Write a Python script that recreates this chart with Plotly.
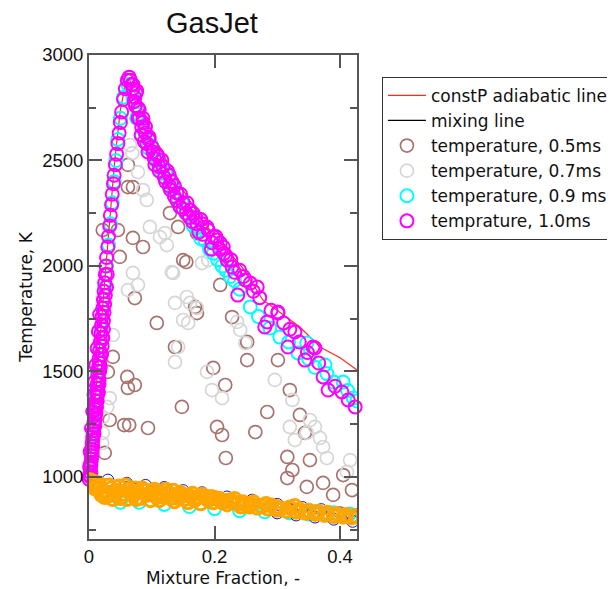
import plotly.graph_objects as go

# ---------------- data ----------------
adiab_x = [0.0, 0.013, 0.027, 0.041, 0.050, 0.058, 0.063, 0.080, 0.100, 0.125, 0.150, 0.175,
           0.200, 0.225, 0.245, 0.277, 0.300, 0.336, 0.368, 0.400, 0.427]
adiab_T = [1000, 1500, 2000, 2500, 2740, 2860, 2895, 2770, 2640, 2490, 2360, 2240,
           2140, 2060, 1990, 1839, 1790, 1711, 1616, 1565, 1507]

mix_x = [0.0, 0.427]
mix_T = [1000, 830]

t05_x = [0.062, 0.070, 0.046, 0.070, 0.086, 0.142, 0.150, 0.049, 0.129, 0.172, 0.209, 0.155,
         0.108, 0.073, 0.137, 0.198, 0.038, 0.061, 0.073, 0.062, 0.033, 0.056, 0.064, 0.094,
         0.148, 0.204, 0.212, 0.218, 0.228, 0.252, 0.252, 0.265, 0.284, 0.301, 0.320, 0.336,
         0.316, 0.324, 0.316, 0.344, 0.352, 0.347, 0.373, 0.389, 0.405, 0.419, 0.030, 0.025,
         0.217, 0.022, 0.169, 0.172, 0.062]
t05_T = [2374, 2374, 2170, 2133, 2090, 2185, 2028, 2043, 2251, 2156, 1910, 2019,
         1730, 1848, 1616, 1517, 1569, 1474, 1436, 1422, 1270, 1246, 1246, 1232,
         1332, 1237, 1199, 1090, 1758, 1640, 1554, 1213, 1308, 1554, 1412, 1294,
         1095, 1033, 995, 1209, 1080, 953, 972, 915, 1009, 938, 1498, 1114,
         1436, 2170, 1806, 1777, 2479]

t07_x = [0.065, 0.069, 0.078, 0.086, 0.092, 0.097, 0.113, 0.124, 0.132, 0.070, 0.190, 0.180,
         0.078, 0.062, 0.134, 0.137, 0.156, 0.161, 0.172, 0.150, 0.158, 0.038, 0.142, 0.137,
         0.188, 0.196, 0.212, 0.033, 0.029, 0.022, 0.022, 0.021, 0.241, 0.236, 0.249, 0.296,
         0.324, 0.320, 0.328, 0.352, 0.360, 0.368, 0.373, 0.379, 0.347, 0.416, 0.411, 0.121]
t07_T = [2573, 2535, 2445, 2360, 2313, 2185, 2137, 2099, 1971, 1967, 2028, 2014,
         1910, 1886, 1967, 1825, 1853, 1825, 1801, 1744, 1730, 1673, 1616, 1545,
         1498, 1412, 1374, 1374, 1332, 1284, 1209, 1161, 1697, 1735, 1635, 1460,
         1365, 1237, 1175, 1270, 1237, 1185, 1142, 1090, 1209, 1080, 1024, 2156]

t09_x = [0.002, 0.004, 0.006, 0.008, 0.010, 0.013, 0.016, 0.019, 0.022, 0.025, 0.028, 0.031,
         0.034, 0.037, 0.040, 0.043, 0.046, 0.050, 0.055, 0.062,
         0.070, 0.078, 0.088, 0.100, 0.110, 0.122, 0.135, 0.148, 0.160, 0.172, 0.185, 0.198,
         0.212, 0.225, 0.240, 0.257, 0.270, 0.288, 0.304, 0.318, 0.333, 0.347, 0.350, 0.360,
         0.376, 0.379, 0.390, 0.405, 0.412, 0.421, 0.427,
         0.076, 0.084, 0.094, 0.106, 0.116, 0.128, 0.142, 0.154, 0.166, 0.178, 0.192, 0.205,
         0.218, 0.232,
         0.020, 0.050, 0.080, 0.120, 0.160, 0.200, 0.240, 0.280, 0.320, 0.350, 0.380, 0.410,
         0.425, 0.360, 0.390, 0.415]
t09_T = [1000, 1100, 1200, 1300, 1400, 1500, 1600, 1700, 1800, 1900, 2000, 2100,
         2200, 2300, 2400, 2500, 2600, 2700, 2800, 2860,
         2800, 2720, 2640, 2570, 2500, 2440, 2370, 2300, 2240, 2180, 2120, 2060,
         2000, 1950, 1890, 1806, 1760, 1706, 1663, 1640, 1588, 1635, 1560, 1520,
         1531, 1490, 1450, 1450, 1410, 1374, 1360,
         2700, 2620, 2560, 2500, 2440, 2370, 2310, 2250, 2190, 2130, 2080, 2030,
         1980, 1930,
         920, 880, 880, 870, 860, 850, 840, 835, 830, 825, 820, 815,
         810, 835, 830, 825]

t10_x = [0.000, 0.001, 0.002, 0.003, 0.004, 0.004, 0.005, 0.006, 0.007, 0.008, 0.009, 0.010,
         0.011, 0.012, 0.013, 0.014, 0.015, 0.016, 0.017, 0.018, 0.019, 0.020, 0.021, 0.022,
         0.023, 0.024, 0.025, 0.026, 0.027, 0.028, 0.030, 0.031, 0.033, 0.034, 0.036, 0.037,
         0.039, 0.040, 0.042, 0.044, 0.046, 0.048, 0.050, 0.052, 0.055, 0.058, 0.061,
         0.002, 0.003, 0.005, 0.006, 0.007, 0.009, 0.010, 0.011, 0.013, 0.014, 0.016, 0.017,
         0.019, 0.021, 0.023, 0.025,
         0.003, 0.004, 0.006, 0.008, 0.009, 0.011, 0.012, 0.013, 0.015, 0.016, 0.017, 0.018,
         0.020, 0.021, 0.022, 0.023, 0.024, 0.026, 0.028, 0.029, 0.001, 0.002, 0.004, 0.006,
         0.008, 0.009, 0.011, 0.013, 0.015, 0.017,
         0.064, 0.066, 0.068, 0.070, 0.072, 0.073, 0.075, 0.078, 0.080, 0.084, 0.086, 0.090,
         0.092, 0.095, 0.100, 0.105, 0.108, 0.112, 0.116, 0.120, 0.125, 0.128, 0.132, 0.136,
         0.140, 0.145, 0.150, 0.155, 0.161, 0.165, 0.170, 0.175, 0.180, 0.188, 0.195, 0.198,
         0.204, 0.209, 0.215, 0.220, 0.228, 0.237, 0.249, 0.257, 0.268, 0.280, 0.284, 0.301,
         0.301, 0.317, 0.328, 0.344, 0.357, 0.360, 0.373, 0.381, 0.403, 0.413, 0.424,
         0.070, 0.076, 0.074, 0.080, 0.078, 0.086, 0.083, 0.090, 0.088, 0.096, 0.094, 0.102,
         0.104, 0.110, 0.112, 0.118, 0.122, 0.128, 0.130, 0.136, 0.140, 0.146, 0.150, 0.156,
         0.160, 0.166, 0.172, 0.178, 0.182, 0.190, 0.196, 0.202, 0.208, 0.214, 0.218, 0.226,
         0.232, 0.240, 0.246, 0.262, 0.272, 0.290, 0.310, 0.320, 0.335, 0.348, 0.366, 0.392]
t10_T = [990, 1010, 1040, 1070, 1100, 1130, 1160, 1190, 1220, 1260, 1290, 1320,
         1360, 1400, 1440, 1480, 1520, 1560, 1600, 1640, 1680, 1720, 1760, 1800,
         1840, 1880, 1920, 1960, 2000, 2040, 2090, 2140, 2190, 2240, 2290, 2340,
         2390, 2430, 2480, 2530, 2580, 2630, 2680, 2730, 2790, 2840, 2880,
         1000, 1055, 1115, 1175, 1205, 1245, 1275, 1340, 1380, 1420, 1460, 1540,
         1580, 1660, 1740, 1820,
         1020, 1085, 1145, 1205, 1240, 1300, 1330, 1360, 1400, 1440, 1500, 1520,
         1580, 1620, 1660, 1700, 1780, 1860, 1900, 1960, 1050, 1120, 1230, 1310,
         1390, 1450, 1530, 1610, 1690, 1770,
         2895, 2880, 2860, 2840, 2780, 2800, 2820, 2750, 2700, 2659, 2680, 2630,
         2580, 2600, 2564, 2480, 2530, 2470, 2502, 2420, 2450, 2380, 2400, 2330,
         2346, 2280, 2300, 2250, 2265, 2210, 2230, 2160, 2200, 2185, 2080, 2140,
         2123, 2109, 2060, 2028, 1995, 1862, 1934, 1919, 1900, 1711, 1735, 1782,
         1777, 1616, 1687, 1554, 1616, 1611, 1474, 1412, 1403, 1365, 1332,
         2860, 2830, 2760, 2740, 2700, 2700, 2620, 2660, 2590, 2610, 2540, 2540,
         2510, 2520, 2450, 2470, 2400, 2430, 2360, 2380, 2310, 2340, 2270, 2300,
         2230, 2250, 2200, 2220, 2150, 2170, 2110, 2140, 2080, 2090, 2050, 2030,
         1970, 1980, 1950, 1880, 1850, 1790, 1730, 1700, 1640, 1590, 1540, 1430]

blue_x = [0.005, 0.030, 0.060, 0.090, 0.120, 0.150, 0.180, 0.220, 0.260, 0.300, 0.340, 0.370,
          0.400, 0.420, 0.420, 0.390, 0.360, 0.330, 0.300]
blue_T = [990, 985, 970, 960, 950, 935, 925, 905, 890, 870, 855, 845,
          830, 815, 790, 800, 810, 820, 830]

orange_x = [0.003, 0.008, 0.012, 0.018, 0.022, 0.028, 0.035, 0.040, 0.048, 0.055, 0.062, 0.070,
            0.078, 0.085, 0.092, 0.100, 0.108, 0.115, 0.122, 0.130, 0.138, 0.145, 0.152, 0.160,
            0.170, 0.180, 0.190, 0.200, 0.212, 0.225, 0.238, 0.250, 0.262, 0.275, 0.290, 0.305,
            0.320, 0.335, 0.350, 0.365, 0.380, 0.395, 0.410, 0.425,
            0.015, 0.032, 0.045, 0.058, 0.066, 0.074, 0.088, 0.096, 0.104, 0.118, 0.126, 0.134,
            0.148, 0.165, 0.175, 0.195, 0.206, 0.218, 0.232, 0.245, 0.258, 0.282, 0.298, 0.328,
            0.006, 0.010, 0.015, 0.020, 0.025, 0.030, 0.038, 0.043, 0.050, 0.060, 0.068, 0.075,
            0.082, 0.090, 0.098, 0.106, 0.112, 0.120, 0.128, 0.136, 0.142, 0.150, 0.158, 0.168,
            0.178, 0.186, 0.198, 0.208, 0.220, 0.230, 0.242, 0.255, 0.268, 0.285, 0.300, 0.315,
            0.330, 0.345, 0.360, 0.375, 0.390, 0.405, 0.418]
orange_T = [985, 975, 960, 950, 935, 925, 945, 915, 955, 920, 940, 910,
            930, 945, 915, 930, 905, 925, 940, 900, 915, 925, 895, 910,
            900, 915, 890, 900, 880, 890, 875, 870, 880, 860, 865, 850,
            855, 845, 840, 835, 830, 825, 820, 815,
            970, 960, 930, 960, 925, 945, 935, 920, 940, 910, 925, 935,
            910, 920, 905, 905, 895, 885, 895, 880, 870, 872, 858, 862,
            965, 945, 940, 915, 905, 910, 895, 935, 900, 895, 925, 895,
            900, 935, 890, 920, 890, 905, 920, 885, 900, 915, 880, 890,
            875, 905, 880, 895, 870, 880, 860, 860, 855, 850, 845, 840,
            835, 830, 825, 820, 815, 812, 808]

x_ticks = [0, 0.2, 0.4]
y_ticks = [1000, 1500, 2000, 2500, 3000]
y_minor = [750, 1250, 1750, 2250, 2750]

FONT = "Liberation Sans, Arial, Helvetica, sans-serif"
FONT2 = "DejaVu Sans, Verdana, sans-serif"

fig = go.Figure()

fig.add_trace(go.Scatter(x=adiab_x, y=adiab_T, mode="lines", name="constP adiabatic line",
                         line=dict(color="#FF2A1A", width=1.2)))
fig.add_trace(go.Scatter(x=mix_x, y=mix_T, mode="lines", name="mixing line",
                         line=dict(color="#000000", width=1.2)))


def rings(xs, ys, name, color, size=13, width=1.7, show=True, clip=True):
    return go.Scatter(x=xs, y=ys, mode="markers", name=name, showlegend=show,
                      cliponaxis=clip,
                      marker=dict(symbol="circle-open", size=size, color=color,
                                  line=dict(width=width, color=color)))


fig.add_trace(rings(t05_x, t05_T, "temperature, 0.5ms", "#A8736E"))
fig.add_trace(rings(t07_x, t07_T, "temperature, 0.7ms", "#D6D6D6"))
fig.add_trace(rings(t09_x, t09_T, "temperature, 0.9 ms", "#00FFFF", width=2))
fig.add_trace(rings(t10_x, t10_T, "temprature, 1.0ms", "#FF00FF", width=2, clip=False))
fig.add_trace(rings(blue_x, blue_T, "blue", "#1010D0", size=12, width=1.0, show=False))
fig.add_trace(rings(orange_x, orange_T, "orange", "#FFA500", size=13, width=3, show=False))

axis_common = dict(showgrid=False, zeroline=False, showline=True, linecolor="#555555",
                   linewidth=2, mirror="allticks", ticks="inside", tickcolor="#555555",
                   tickwidth=2, automargin=False,
                   tickfont=dict(family=FONT, size=18.5, color="#111111"))

fig.update_xaxes(range=[0, 0.427], tickvals=x_ticks, ticklen=13,
                 title=dict(text="Mixture Fraction, -", font=dict(family=FONT2, size=17, color="#111111"),
                            standoff=6),
                 **axis_common)
fig.update_yaxes(range=[706, 3000], tickvals=y_ticks, ticklen=13,
                 minor=dict(tickvals=y_minor, ticklen=7, ticks="inside",
                            tickcolor="#555555", tickwidth=2),
                 title=dict(text="Temperature, K", font=dict(family=FONT2, size=17, color="#111111"),
                            standoff=5),
                 **axis_common)

# the page body adds an 8px offset, so the figure is 8px smaller and margins shifted
fig.update_layout(
    width=607, height=581,
    margin=dict(l=81, r=258, t=47, b=50, autoexpand=False),
    paper_bgcolor="white", plot_bgcolor="white",
    title=dict(text="GasJet", x=0.336, xanchor="center", y=0.975, yanchor="middle",
               font=dict(family=FONT, size=29, color="#111111")),
    legend=dict(x=1.093, y=0.955, xanchor="left", yanchor="top",
                bgcolor="white", bordercolor="#333333", borderwidth=1,
                itemwidth=38, entrywidth=225, entrywidthmode="pixels",
                font=dict(family=FONT2, size=17, color="#111111"),
                tracegroupgap=0),
    showlegend=True,
)

fig.write_html("out.html")
